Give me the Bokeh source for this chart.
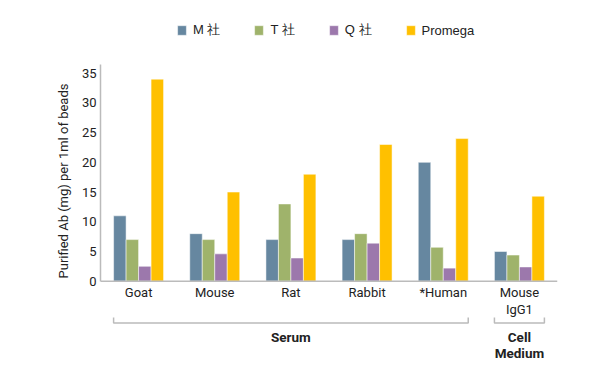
from bokeh.plotting import figure
from bokeh.models import Range1d, FixedTicker, Legend, LegendItem, ColumnDataSource
from bokeh.embed import file_html
from bokeh.resources import INLINE
from bokeh.core.properties import value

# ---- data ----
categories = ["Goat", "Mouse", "Rat", "Rabbit", "*Human", "Mouse\nIgG1"]
groups = ["Serum", "Serum", "Serum", "Serum", "Serum", "Cell\nMedium"]
series = ["M 社", "T 社", "Q 社", "Promega"]
m_vals = [11, 8, 7, 7, 20, 5.0]
t_vals = [7, 7, 13, 8, 5.7, 4.4]
q_vals = [2.5, 4.6, 3.9, 6.4, 2.2, 2.4]
p_vals = [34, 15, 18, 23, 24, 14.3]
colors = ["#6687A0", "#9FB36B", "#9C78AC", "#FFC000"]
y_ticks = [0, 5, 10, 15, 20, 25, 30, 35]
y_label = "Purified Ab (mg) per 1ml of beads"

# ---- layout constants ----
W, H = 584, 361
LEFT, RIGHT = 100, 27
Y_BOTTOM, Y_TOP = -13.51, 47.23
AXIS_TOP = 36.5
BAR_W = 0.164
TEXT = "#222222"
GRAY = "#BBBBBB"

n = len(categories)
centers = [i + 0.5 for i in range(n)]

p = figure(width=W, height=H, output_backend="svg", toolbar_location=None,
           x_range=Range1d(0, n), y_range=Range1d(Y_BOTTOM, Y_TOP),
           x_axis_location=None, y_axis_location="left",
           min_border_left=LEFT, min_border_right=RIGHT,
           min_border_top=0, min_border_bottom=0)
p.outline_line_color = None
p.grid.visible = False
p.background_fill_color = "white"
p.border_fill_color = "white"

all_vals = [m_vals, t_vals, q_vals, p_vals]
renderers = []
for k, (vals, col) in enumerate(zip(all_vals, colors)):
    off = (k - (len(all_vals) - 1) / 2) * BAR_W
    src = ColumnDataSource(dict(x=[c + off for c in centers], top=vals))
    r = p.vbar(x="x", top="top", bottom=0, width=BAR_W, source=src,
               fill_color=col, line_color="white", line_alpha=0.5, line_width=1)
    renderers.append(r)

# bottom axis line
p.segment(x0=[0], y0=[0], x1=[n], y1=[0], line_color=GRAY, line_width=1.5)

# y axis
ax = p.yaxis[0]
ax.ticker = FixedTicker(ticks=y_ticks)
ax.bounds = (0, AXIS_TOP)
ax.axis_line_color = GRAY
ax.axis_line_width = 1.5
ax.major_tick_line_color = None
ax.minor_tick_line_color = None
ax.major_tick_out = 0
ax.major_tick_in = 0
ax.major_label_standoff = 4
ax.major_label_text_font = "Roboto"
ax.major_label_text_font_size = "13px"
ax.major_label_text_color = TEXT
ax.axis_label = y_label
ax.axis_label_text_font = "Roboto"
ax.axis_label_text_font_size = "13px"
ax.axis_label_text_font_style = "normal"
ax.axis_label_text_color = TEXT
ax.axis_label_standoff = 8

# category labels
p.text(x=centers, y=[-0.64] * n, text=categories, text_align="center",
       text_baseline="top", text_font=value("Roboto"), text_font_size="13px",
       text_line_height=1.12, text_color=TEXT)

# group brackets and labels
half = 2 * BAR_W
uniq = []
for g in groups:
    if g not in uniq:
        uniq.append(g)
bx, by, gx = [], [], []
for g in uniq:
    cs = [c for c, gg in zip(centers, groups) if gg == g]
    x0, x1 = min(cs) - half, max(cs) + half
    bx.append([x0, x0, x1, x1])
    by.append([-6.11, -7.03, -7.03, -6.11])
    gx.append(sum(cs) / len(cs))
p.multi_line(xs=bx, ys=by, line_color=GRAY, line_width=1.5)
p.text(x=gx, y=[-8.04] * len(uniq), text=uniq, text_align="center",
       text_baseline="top", text_font=value("Roboto"), text_font_size="13.5px",
       text_font_style="bold", text_line_height=0.97, text_color=TEXT)

# legend
items = [LegendItem(label=s, renderers=[r]) for s, r in zip(series, renderers)]
legend = Legend(items=items, orientation="horizontal", location=(76, 322),
                padding=0, margin=0, spacing=33, label_standoff=6,
                glyph_width=11, glyph_height=12, label_height=12,
                border_line_color=None, background_fill_alpha=0,
                label_text_font="Liberation Sans", label_text_font_size="13px",
                label_text_color=TEXT)
p.add_layout(legend)

open("out.html", "w").write(file_html(p, INLINE))
